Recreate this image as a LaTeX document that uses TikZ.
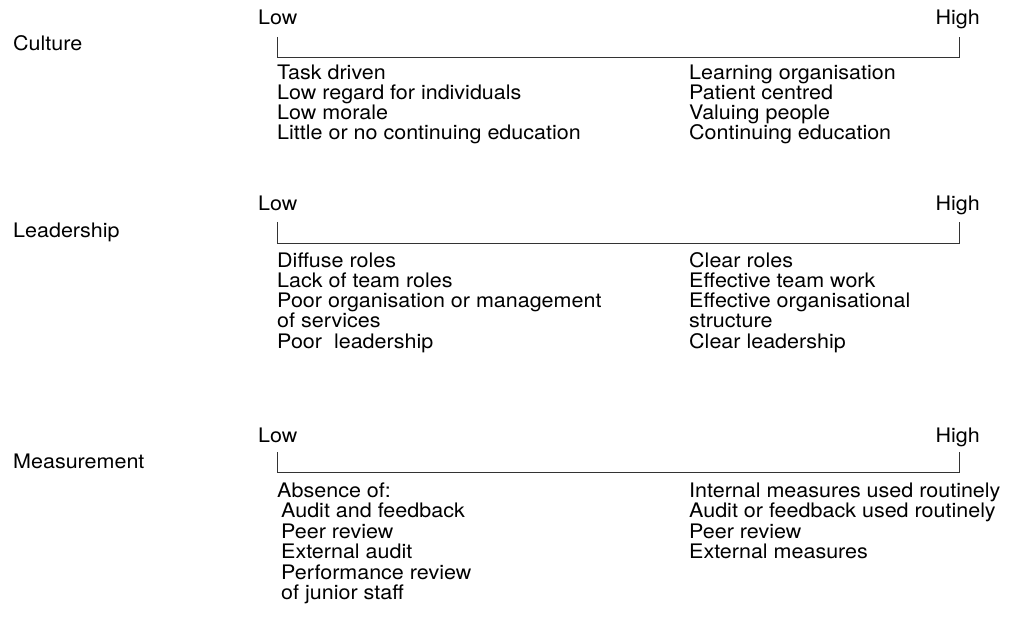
\documentclass[tikz,border=0pt]{standalone}
\usepackage{fontspec}
\usepackage{graphicx}
\setmainfont{TeX Gyre Heros}
\newcommand{\hstretch}[1]{\scalebox{1.075}[1]{#1}}
\begin{document}
\begin{tikzpicture}[x=1pt,y=-1pt,
  txt/.style={anchor=base west,inner sep=0pt,font=\fontsize{20}{20}\selectfont},
  txtr/.style={anchor=base east,inner sep=0pt,font=\fontsize{20}{20}\selectfont},
  scale line/.style={line width=0.8pt,black!80}]
\useasboundingbox (0,0) rectangle (1011,620);
% ---------- Culture ----------
\node[txt] (cul) at (13,51) {\hstretch{Culture}};
\node[txt] (cullow) at (258,25) {\hstretch{Low}};
\node[txtr] (culhigh) at (980,25) {\hstretch{High}};
\coordinate (culA) at (277,37);
\coordinate (culB) at (277,57.5);
\coordinate (culC) at (959,57.5);
\coordinate (culD) at (959,37);
\draw[scale line] (culA) -- (culB) -- (culC) -- (culD);
\foreach \t [count=\i] in {Task driven,Low regard for individuals,Low morale,Little or no continuing education}
  \node[txt] (cl\i) at (277,{80+(\i-1)*20}) {\hstretch{\t}};
\foreach \t [count=\i] in {Learning organisation,Patient centred,Valuing people,Continuing education}
  \node[txt] (cr\i) at (689,{80+(\i-1)*20}) {\hstretch{\t}};
% ---------- Leadership ----------
\node[txt] (lea) at (13,237) {\hstretch{Leadership}};
\node[txt] (lealow) at (258,211) {\hstretch{Low}};
\node[txtr] (leahigh) at (980,211) {\hstretch{High}};
\coordinate (leaA) at (277,222);
\coordinate (leaB) at (277,243.5);
\coordinate (leaC) at (959,243.5);
\coordinate (leaD) at (959,222);
\draw[scale line] (leaA) -- (leaB) -- (leaC) -- (leaD);
\foreach \t [count=\i] in {Diffuse roles,Lack of team roles,Poor organisation or management,of services,Poor\ \ leadership}
  \node[txt] (ll\i) at (277,{267+(\i-1)*20.3}) {\hstretch{\t}};
\foreach \t [count=\i] in {Clear roles,Effective team work,Effective organisational,structure,Clear leadership}
  \node[txt] (lr\i) at (689,{267+(\i-1)*20.3}) {\hstretch{\t}};
% ---------- Measurement ----------
\node[txt] (mea) at (13,468) {\hstretch{Measurement}};
\node[txt] (mealow) at (258,442) {\hstretch{Low}};
\node[txtr] (meahigh) at (980,442) {\hstretch{High}};
\coordinate (meaA) at (277,452);
\coordinate (meaB) at (277,472.5);
\coordinate (meaC) at (959,472.5);
\coordinate (meaD) at (959,452);
\draw[scale line] (meaA) -- (meaB) -- (meaC) -- (meaD);
\node[txt] (ml1) at (277,497) {\hstretch{Absence of:}};
\foreach \t [count=\i] in {Audit and feedback,Peer review,External audit,Performance review,of junior staff}
  \node[txt] (mls\i) at (281,{497+\i*20.5}) {\hstretch{\t}};
\foreach \t [count=\i] in {Internal measures used routinely,Audit or feedback used routinely,Peer review,External measures}
  \node[txt] (mr\i) at (689,{497+(\i-1)*20.5}) {\hstretch{\t}};
\end{tikzpicture}
\end{document}
